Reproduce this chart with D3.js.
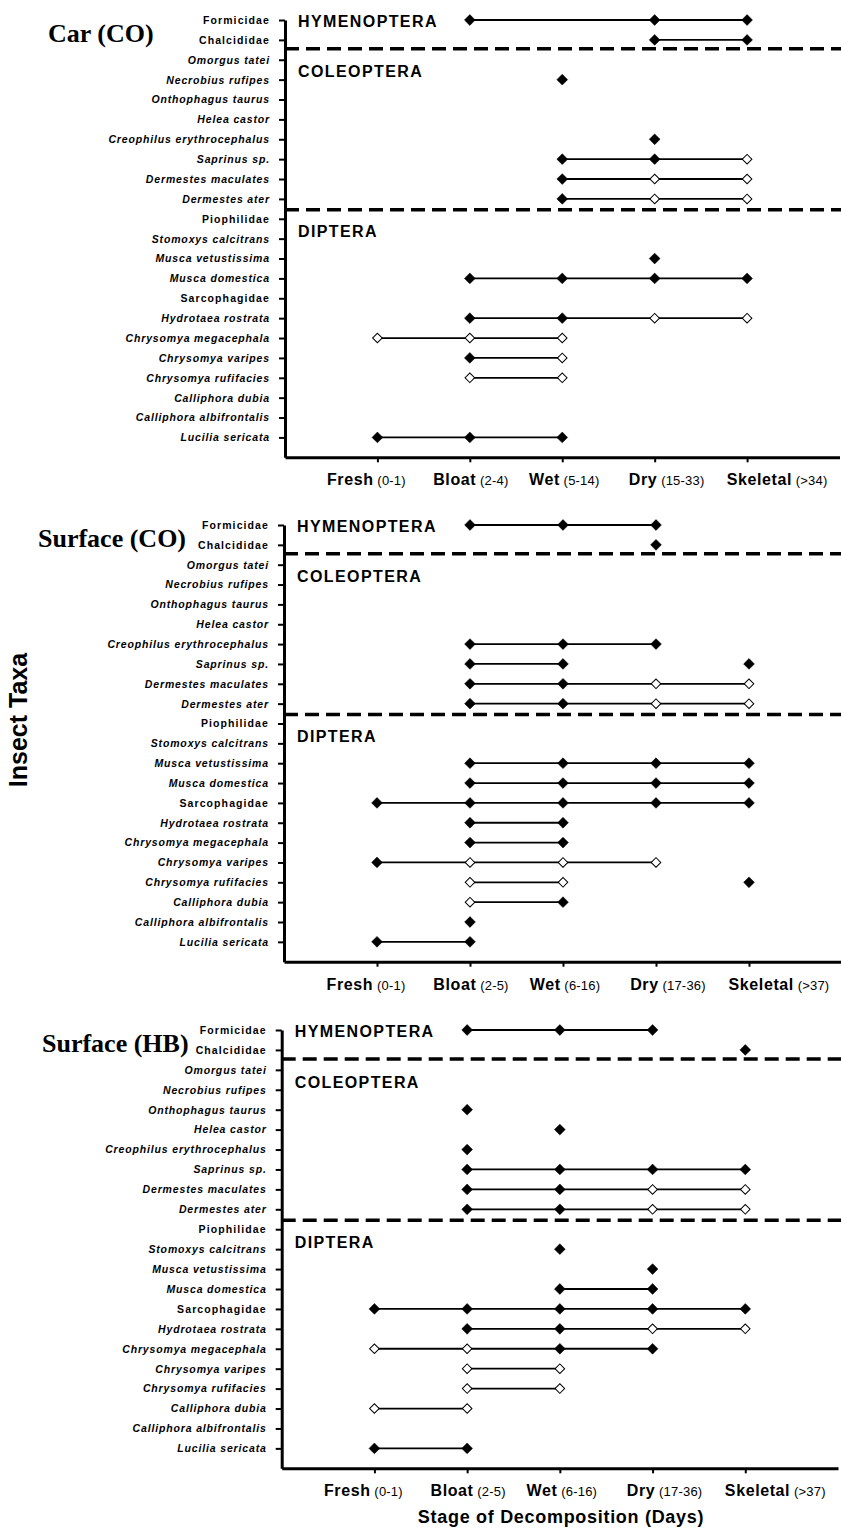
<!DOCTYPE html>
<html><head><meta charset="utf-8">
<script src="https://cdn.jsdelivr.net/npm/d3@7"></script>
<style>html,body{margin:0;padding:0;background:#fff;}svg{display:block;}</style>
</head><body>
<script>
// ---------- DATA ----------
const taxa = ["Formicidae","Chalcididae","Omorgus tatei","Necrobius rufipes","Onthophagus taurus","Helea castor",
  "Creophilus erythrocephalus","Saprinus sp.","Dermestes maculates","Dermestes ater","Piophilidae","Stomoxys calcitrans",
  "Musca vetustissima","Musca domestica","Sarcophagidae","Hydrotaea rostrata","Chrysomya megacephala","Chrysomya varipes",
  "Chrysomya rufifacies","Calliphora dubia","Calliphora albifrontalis","Lucilia sericata"];
const familyTaxa = ["Formicidae","Chalcididae","Piophilidae","Sarcophagidae"];
const orders = ["HYMENOPTERA","COLEOPTERA","DIPTERA"];
const stages = ["Fresh","Bloat","Wet","Dry","Skeletal"];
const carDays = ["(0-1)","(2-4)","(5-14)","(15-33)","(>34)"];
const surfaceDays = ["(0-1)","(2-5)","(6-16)","(17-36)","(>37)"];
const panelTitles = ["Car (CO)","Surface (CO)","Surface (HB)"];
const yTitle = "Insect Taxa";
const xTitle = "Stage of Decomposition (Days)";

// presence per stage: 0 = absent, 1 = filled diamond, 2 = open diamond
const carCO = [
  [0,1,0,1,1],[0,0,0,1,1],[0,0,0,0,0],[0,0,1,0,0],[0,0,0,0,0],[0,0,0,0,0],
  [0,0,0,1,0],[0,0,1,1,2],[0,0,1,2,2],[0,0,1,2,2],[0,0,0,0,0],[0,0,0,0,0],
  [0,0,0,1,0],[0,1,1,1,1],[0,0,0,0,0],[0,1,1,2,2],[2,2,2,0,0],[0,1,2,0,0],
  [0,2,2,0,0],[0,0,0,0,0],[0,0,0,0,0],[1,1,1,0,0]];
const carCOSpans = [
  [[1,4]],[[3,4]],[],[],[],[],
  [],[[2,4]],[[2,4]],[[2,4]],[],[],
  [],[[1,4]],[],[[1,4]],[[0,2]],[[1,2]],
  [[1,2]],[],[],[[0,2]]];

const surfaceCO = [
  [0,1,1,1,0],[0,0,0,1,0],[0,0,0,0,0],[0,0,0,0,0],[0,0,0,0,0],[0,0,0,0,0],
  [0,1,1,1,0],[0,1,1,0,1],[0,1,1,2,2],[0,1,1,2,2],[0,0,0,0,0],[0,0,0,0,0],
  [0,1,1,1,1],[0,1,1,1,1],[1,1,1,1,1],[0,1,1,0,0],[0,1,1,0,0],[1,2,2,2,0],
  [0,2,2,0,1],[0,2,1,0,0],[0,1,0,0,0],[1,1,0,0,0]];
const surfaceCOSpans = [
  [[1,3]],[],[],[],[],[],
  [[1,3]],[[1,2]],[[1,4]],[[1,4]],[],[],
  [[1,4]],[[1,4]],[[0,4]],[[1,2]],[[1,2]],[[0,3]],
  [[1,2]],[[1,2]],[],[[0,1]]];

const surfaceHB = [
  [0,1,1,1,0],[0,0,0,0,1],[0,0,0,0,0],[0,0,0,0,0],[0,1,0,0,0],[0,0,1,0,0],
  [0,1,0,0,0],[0,1,1,1,1],[0,1,1,2,2],[0,1,1,2,2],[0,0,0,0,0],[0,0,1,0,0],
  [0,0,0,1,0],[0,0,1,1,0],[1,1,1,1,1],[0,1,1,2,2],[2,2,1,1,0],[0,2,2,0,0],
  [0,2,2,0,0],[2,2,0,0,0],[0,0,0,0,0],[1,1,0,0,0]];
const surfaceHBSpans = [
  [[1,3]],[],[],[],[],[],
  [],[[1,4]],[[1,4]],[[1,4]],[],[],
  [],[[2,3]],[[0,4]],[[1,4]],[[0,3]],[[1,2]],
  [[1,2]],[[0,1]],[],[[0,1]]];

// ---------- LAYOUT ----------
const W = 841, H = 1533;
const panels = [
  {title: panelTitles[0], data: carCO, spans: carCOSpans, days: carDays, top: 20, bottom: 457.3, left: 285, right: 839.5, titleX: 48},
  {title: panelTitles[1], data: surfaceCO, spans: surfaceCOSpans, days: surfaceDays, top: 525, bottom: 961.7, left: 284, right: 842, titleX: 38},
  {title: panelTitles[2], data: surfaceHB, spans: surfaceHBSpans, days: surfaceDays, top: 1030, bottom: 1468.3, left: 281.7, right: 838, titleX: 42}
];
const labelOffsets = [-11, 1, 2, 12, 30];
const orderRows = [0.05, 2.6, 10.65];
const dividerRows = [1.45, 9.55];
const sans = "'Liberation Sans', Arial, sans-serif";
const serif = "'Liberation Serif', 'Times New Roman', serif";

const svg = d3.select("body").append("svg").attr("width", W).attr("height", H)
  .attr("viewBox", `0 0 ${W} ${H}`);

const diamond = d3.symbol().type(d3.symbolSquare);

panels.forEach(p => {
  const y = d3.scaleLinear().domain([0, 22]).range([p.top, p.bottom]);
  const x = d3.scaleLinear().domain([-1, 5]).range([p.left, p.right]);
  const g = svg.append("g");

  // dashed dividers
  g.selectAll("line.div").data(dividerRows).join("line").attr("class", "div")
    .attr("x1", p.left).attr("x2", W).attr("y1", d => y(d)).attr("y2", d => y(d))
    .attr("stroke", "#000").attr("stroke-width", 3.5).attr("stroke-dasharray", "14,7");

  // y axis
  const gy = g.append("g").attr("transform", `translate(${p.left},0)`)
    .call(d3.axisLeft(y).tickValues(d3.range(taxa.length)).tickFormat(i => taxa[i])
      .tickSize(6).tickPadding(9).tickSizeOuter(0));
  gy.select(".domain").attr("stroke-width", 3);
  gy.selectAll(".tick line").attr("stroke-width", 2);
  gy.selectAll(".tick text")
    .attr("font-family", sans).attr("font-weight", "bold").attr("font-size", 10.5)
    .attr("fill", "#000")
    .attr("font-style", i => familyTaxa.includes(taxa[i]) ? "normal" : "italic")
    .attr("letter-spacing", i => familyTaxa.includes(taxa[i]) ? "1.1px" : "0.85px");

  // x axis
  const gx = g.append("g").attr("transform", `translate(0,${p.bottom})`)
    .call(d3.axisBottom(x).tickValues(d3.range(stages.length)).tickFormat("")
      .tickSize(5).tickSizeOuter(0));
  gx.select(".domain").attr("stroke-width", 3);
  gx.selectAll(".tick line").attr("stroke-width", 2);

  const lab = g.selectAll("text.xl").data(stages).join("text").attr("class", "xl")
    .attr("x", (d, i) => x(i) + labelOffsets[i]).attr("y", p.bottom + 28)
    .attr("text-anchor", "middle").attr("font-family", sans).attr("fill", "#000");
  lab.append("tspan").attr("font-weight", "bold").attr("font-size", 16)
    .attr("letter-spacing", "0.6px").text(d => d);
  lab.append("tspan").attr("font-size", 13).attr("letter-spacing", "0.2px")
    .text((d, i) => " " + p.days[i]);

  // order labels
  g.selectAll("text.ord").data(orders).join("text").attr("class", "ord")
    .attr("x", p.left + 13).attr("y", (d, i) => y(orderRows[i]))
    .attr("dy", "0.36em").attr("font-family", sans).attr("font-weight", "bold")
    .attr("font-size", 16).attr("letter-spacing", "1.4px").attr("fill", "#000").text(d => d);

  // panel title
  g.append("text").attr("x", p.titleX).attr("y", y(1) - 7).attr("dy", "0.35em")
    .attr("font-family", serif).attr("font-weight", "bold").attr("font-size", 26)
    .attr("fill", "#000").text(p.title);

  // spans
  const segs = [];
  p.spans.forEach((s, r) => s.forEach(([a, b]) => segs.push({r, a, b})));
  g.selectAll("line.seg").data(segs).join("line").attr("class", "seg")
    .attr("x1", d => x(d.a)).attr("x2", d => x(d.b))
    .attr("y1", d => y(d.r)).attr("y2", d => y(d.r))
    .attr("stroke", "#000").attr("stroke-width", 1.8);

  // markers
  const pts = [];
  p.data.forEach((row, r) => row.forEach((v, s) => { if (v) pts.push({r, s, v}); }));
  g.selectAll("path.pt").data(pts).join("path").attr("class", "pt")
    .attr("d", d => diamond.size(d.v === 1 ? 58 : 46)())
    .attr("transform", d => `translate(${x(d.s)},${y(d.r)}) rotate(45)`)
    .attr("fill", d => d.v === 1 ? "#000" : "#fff")
    .attr("stroke", "#000").attr("stroke-width", d => d.v === 1 ? 0.5 : 1);
});

// axis titles
svg.append("text").attr("transform", "translate(27,720) rotate(-90)")
  .attr("text-anchor", "middle").attr("font-family", sans).attr("font-weight", "bold")
  .attr("font-size", 25).attr("fill", "#000").text(yTitle);
svg.append("text").attr("x", 561).attr("y", 1523).attr("text-anchor", "middle")
  .attr("font-family", sans).attr("font-weight", "bold").attr("font-size", 18)
  .attr("letter-spacing", "0.7px").attr("fill", "#000").text(xTitle);
</script>
</body></html>
